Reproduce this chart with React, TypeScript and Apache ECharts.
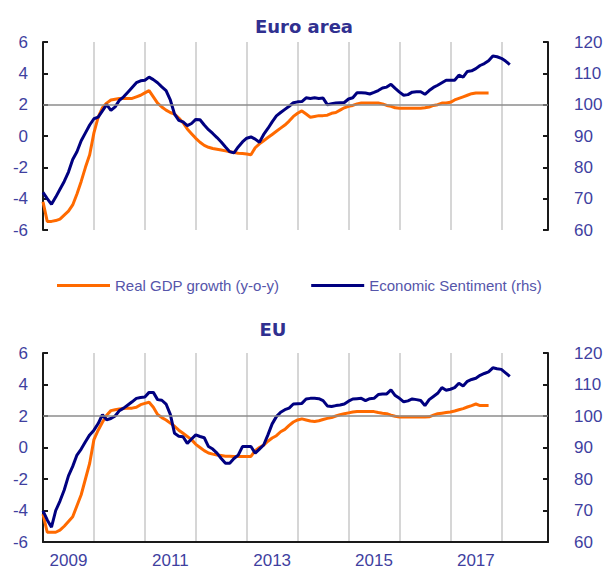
import React, { useEffect, useRef } from "react";
import * as echarts from "echarts";

// Monthly categories Jan 2009 - Dec 2018
const years = [2009, 2010, 2011, 2012, 2013, 2014, 2015, 2016, 2017, 2018];
const months: string[] = [];
years.forEach((y) => {
  for (let m = 1; m <= 12; m++) months.push(`${y}-${m < 10 ? "0" + m : m}`);
});

const gdpName = "Real GDP growth (y-o-y)";
const esiName = "Economic Sentiment (rhs)";

// Euro area – real GDP growth y-o-y (%), monthly from Jan 2009
const gdpEA = [
  -4.2, -5.45, -5.45, -5.4, -5.3, -5.05, -4.8, -4.4, -3.7, -2.9, -2.0, -1.2,
  0.2, 1.2, 1.8, 2.1, 2.3, 2.35, 2.4, 2.4, 2.4, 2.4, 2.5, 2.6,
  2.75, 2.9, 2.5, 2.1, 1.85, 1.65, 1.5, 1.4, 1.15, 0.85, 0.45, 0.15,
  -0.15, -0.4, -0.6, -0.72, -0.8, -0.85, -0.9, -0.95, -1.0, -1.05, -1.1, -1.12,
  -1.15, -1.2, -0.75, -0.5, -0.3, -0.1, 0.1, 0.3, 0.5, 0.7, 0.95, 1.25,
  1.45, 1.6, 1.4, 1.2, 1.25, 1.3, 1.3, 1.33, 1.45, 1.5, 1.65, 1.8,
  1.9, 1.95, 2.05, 2.1, 2.1, 2.1, 2.1, 2.1, 2.05, 1.95, 1.9, 1.8,
  1.77, 1.77, 1.77, 1.77, 1.77, 1.77, 1.8, 1.85, 1.95, 2.0, 2.1, 2.1,
  2.15, 2.3, 2.4, 2.5, 2.6, 2.7, 2.75, 2.75, 2.75, 2.75,
];

// Euro area – Economic Sentiment Indicator, monthly from Jan 2009
const esiEA = [
  72, 70, 68.2, 70.5, 73, 75.5, 78.5, 82.5, 85, 88.5, 91, 93.5,
  95.5, 96, 98, 100, 98.2, 99.3, 101.4, 102.5, 104, 105.5, 107, 107.6,
  107.8, 108.8, 108, 107, 105.7, 104.5, 101.5, 97, 95, 94.5, 93.3, 94,
  95.3, 95.2, 93.5, 92, 90.8, 89.5, 88.1, 86.5, 85, 84.6, 86.5, 88.1,
  89.3, 89.7, 89, 88, 90.5, 92.4, 94.5, 96.4, 97.5, 98.5, 99.5, 100.6,
  100.9, 101, 102.2, 102, 102.2, 102, 102.1, 100, 100.3, 100.5, 100.6, 100.7,
  101.8, 102.2, 103.8, 103.8, 103.7, 103.4, 103.9, 104.5, 105.3, 105.6, 106.5, 105.2,
  104, 103, 103.2, 104, 104.1, 104.1, 103.3, 104.5, 105.5, 106.2, 107, 107.8,
  107.8, 107.8, 109.4, 108.8, 110.6, 110.8, 111.5, 112.5, 113.1, 114, 115.5, 115.3,
  114.8, 113.9, 112.8,
];

// EU – real GDP growth y-o-y (%), monthly from Jan 2009
const gdpEU = [
  -4.23, -5.38, -5.38, -5.38, -5.25, -5.0, -4.7, -4.4, -3.7, -3.0, -2.0, -1.0,
  0.5, 1.1, 1.6, 2.05, 2.34, 2.4, 2.45, 2.48, 2.5, 2.5, 2.55, 2.72,
  2.8, 2.87, 2.55, 2.1, 1.9, 1.75, 1.55, 1.35, 1.1, 0.9, 0.7, 0.5,
  0.2, 0.0, -0.2, -0.35, -0.42, -0.48, -0.51, -0.55, -0.56, -0.57, -0.57, -0.57,
  -0.57, -0.57, -0.2, 0.0, 0.15, 0.4, 0.6, 0.75, 1.0, 1.15, 1.4, 1.62,
  1.75, 1.82, 1.75, 1.68, 1.65, 1.7, 1.78, 1.85, 1.9, 2.0, 2.08, 2.14,
  2.2, 2.25, 2.28, 2.28, 2.28, 2.28, 2.28, 2.22, 2.18, 2.15, 2.05, 1.98,
  1.93, 1.93, 1.93, 1.93, 1.93, 1.93, 1.93, 1.95, 2.05, 2.14, 2.18, 2.22,
  2.25, 2.32, 2.4, 2.47, 2.57, 2.66, 2.76, 2.66, 2.66, 2.66,
];

// EU – Economic Sentiment Indicator, monthly from Jan 2009
const esiEU = [
  69.9, 67, 64.7, 70, 73, 76.5, 81, 84, 87.6, 89.5, 91.8, 94,
  95.5, 97.6, 100.4, 98.8, 99.2, 100, 101.7, 102.5, 103.5, 104.5, 105.6, 105.9,
  106, 107.5, 107.5, 105.2, 105, 103.8, 100.5, 94.5, 93.6, 93.4, 91.3, 92.7,
  94, 93.5, 93.1, 90.3, 89.5, 88.2, 86.5, 85, 85, 86.5, 87.6, 90.3,
  90.3, 90.3, 88.2, 89.5, 90.8, 94, 97.5, 99.8, 101.2, 102, 102.5, 103.8,
  103.9, 104, 105.4, 105.6, 105.6, 105.5, 104.9, 103.2, 103, 103.3, 103.5, 103.8,
  104.7, 105.4, 105.5, 105.6, 104.9, 105.5, 105.6, 106.8, 107, 107, 108.3, 106.5,
  105.6, 104.5, 104.8, 105.4, 105.2, 104.9, 103.3, 105.2, 106.2, 107.2, 109, 108.2,
  108.5, 109, 110.4, 109.5, 111, 111.6, 112, 112.9, 113.5, 114, 115.3, 115,
  114.8, 113.7, 112.6,
];

const leftTicks = { min: -6, max: 6, interval: 2 };
const rightTicks = { min: 60, max: 120, interval: 10 };
const refLine = 2;

const ORANGE = "#ff6a00";
const NAVY = "#000080";
const LABEL = "#3f3f9f";
const TITLE = "#303090";
const FONT = "'Liberation Sans', Arial, sans-serif";

export default function App() {
  const ref = useRef<HTMLDivElement>(null);
  useEffect(() => {
    if (!ref.current) return;
    const chart = echarts.init(ref.current, undefined, { renderer: "svg" });

    const yLeft = (gridIndex: number) => ({
      type: "value",
      gridIndex,
      position: "left",
      ...leftTicks,
      axisLine: { show: true, lineStyle: { color: "#1a1a1a", width: 2 } },
      axisTick: { show: true, inside: true, length: 5, lineStyle: { color: "#1a1a1a", width: 2 } },
      axisLabel: { color: LABEL, fontSize: 17, fontFamily: FONT, margin: 15 },
      splitLine: { show: false },
    });
    const yRight = (gridIndex: number) => ({
      type: "value",
      gridIndex,
      position: "right",
      ...rightTicks,
      axisLine: { show: true, lineStyle: { color: "#1a1a1a", width: 2 } },
      axisTick: { show: true, inside: true, length: 5, lineStyle: { color: "#1a1a1a", width: 2 } },
      axisLabel: { color: LABEL, fontSize: 17, fontFamily: FONT, margin: 26 },
      splitLine: { show: false },
    });
    const xAxis = (gridIndex: number, showLabels: boolean) => ({
      type: "category",
      gridIndex,
      data: months,
      boundaryGap: false,
      axisLine: { show: showLabels, onZero: false, lineStyle: { color: "#1a1a1a", width: 2 } },
      axisTick: { show: false },
      axisLabel: {
        show: showLabels,
        color: LABEL,
        fontSize: 17,
        fontFamily: FONT,
        margin: 10,
        interval: (idx: number) => idx % 24 === 6,
        formatter: (v: string) => v.slice(0, 4),
      },
      splitLine: {
        show: true,
        interval: (idx: number) => idx > 0 && idx % 12 === 0,
        lineStyle: { color: "#c8c8c8", width: 1.5 },
      },
    });
    const mark = {
      silent: true,
      symbol: ["none", "none"],
      label: { show: false },
      lineStyle: { color: "#8c8c8c", width: 1.5, type: "solid" },
      data: [{ yAxis: refLine }],
    };
    const lineSeries = (name: string, data: number[], color: string, xi: number, yi: number, withMark: boolean) => ({
      type: "line",
      name,
      data,
      xAxisIndex: xi,
      yAxisIndex: yi,
      showSymbol: false,
      symbol: "none",
      lineStyle: { color, width: 3 },
      itemStyle: { color },
      ...(withMark ? { markLine: mark } : {}),
    });

    chart.setOption({
      animation: false,
      backgroundColor: "#ffffff",
      grid: [
        { left: 43, right: 58, top: 42, height: 188 },
        { left: 43, right: 58, top: 353, height: 192 },
      ],
      xAxis: [xAxis(0, false), xAxis(1, true)],
      yAxis: [yLeft(0), yRight(0), yLeft(1), yRight(1)],
      legend: {
        data: [gdpName, esiName],
        left: 52,
        top: 273,
        icon: "rect",
        itemWidth: 53,
        itemHeight: 3,
        itemGap: 32,
        textStyle: { color: "#5555aa", fontSize: 15, fontFamily: FONT },
      },
      graphic: [
        {
          type: "text",
          x: 304,
          y: 26,
          style: {
            text: "Euro area",
            align: "center",
            verticalAlign: "middle",
            fill: TITLE,
            font: "bold 18px 'DejaVu Sans', sans-serif",
          },
        },
        {
          type: "text",
          x: 273,
          y: 329,
          style: {
            text: "EU",
            align: "center",
            verticalAlign: "middle",
            fill: TITLE,
            font: "bold 18px 'DejaVu Sans', sans-serif",
          },
        },
      ],
      series: [
        lineSeries(gdpName, gdpEA, ORANGE, 0, 0, true),
        lineSeries(esiName, esiEA, NAVY, 0, 1, false),
        lineSeries(gdpName, gdpEU, ORANGE, 1, 2, true),
        lineSeries(esiName, esiEU, NAVY, 1, 3, false),
      ],
    });
    return () => chart.dispose();
  }, []);
  return (
    <div
      ref={ref}
      style={{ position: "absolute", left: 0, top: 0, width: 606, height: 569, background: "#fff" }}
    />
  );
}
